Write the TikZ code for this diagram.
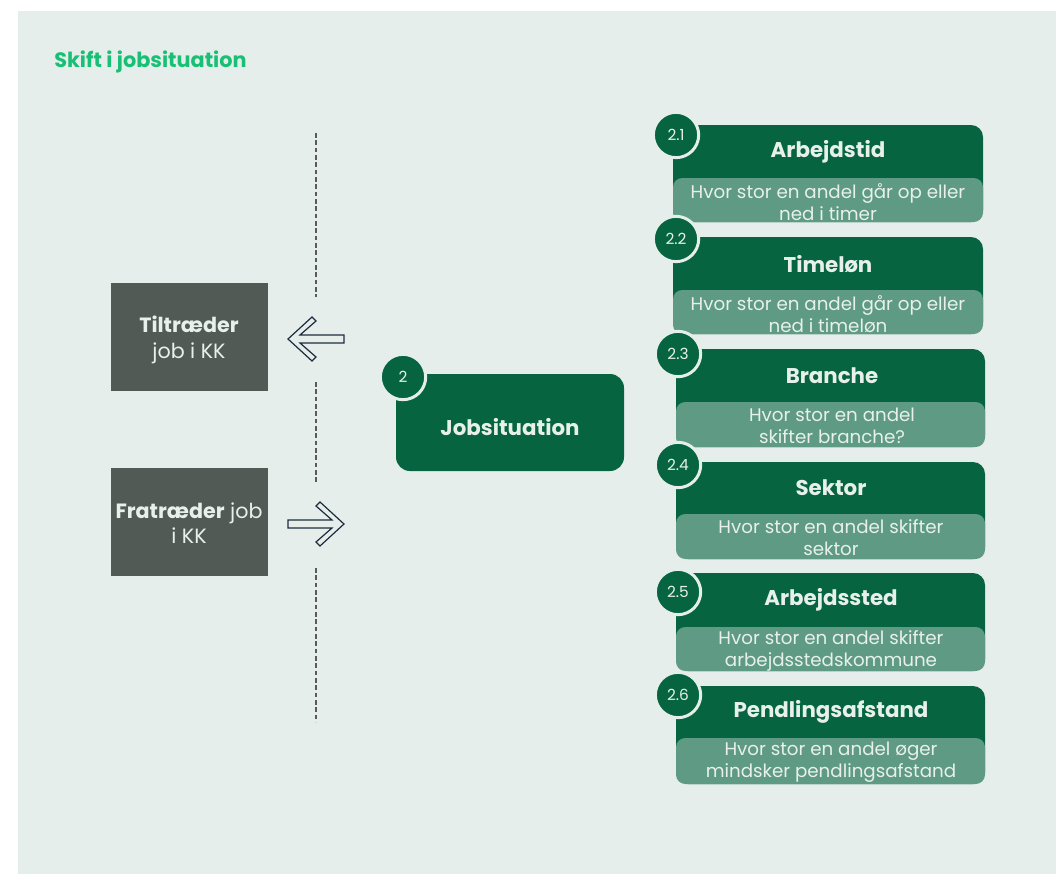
\documentclass[tikz,border=0pt]{standalone}
\usepackage{fontspec}
\setmainfont{Poppins}
\definecolor{bgc}{HTML}{E5EEEB}
\definecolor{headc}{HTML}{19BF75}
\definecolor{dkgreen}{HTML}{066540}
\definecolor{ltgreen}{HTML}{5F9B84}
\definecolor{grayc}{HTML}{525A56}
\definecolor{txtc}{HTML}{E8F0EC}
\definecolor{navy}{HTML}{1E2B3C}
\definecolor{dashc}{HTML}{5A5A5A}
\begin{document}
\begin{tikzpicture}[x=0.75pt, y=-0.75pt,
  numc/.style={circle, fill=dkgreen, draw=bgc, line width=2.25pt, minimum size=34pt, inner sep=0pt, text=txtc, font=\fontsize{11.5}{13}\selectfont},
  cardtitle/.style={text=txtc, inner sep=0pt, font=\fontsize{16}{18}\selectfont\bfseries},
  cardtext/.style={text=txtc, inner sep=0pt, align=center, font=\fontsize{13.7}{16.5}\selectfont},
  graytext/.style={text=txtc, inner sep=0pt, align=center, font=\fontsize{15.5}{19}\selectfont},
  blockarrow/.style={draw=navy, fill=bgc, line width=0.9pt, line join=miter}]
\useasboundingbox (0,0) rectangle (1056,874);
\fill[white] (0,0) rectangle (1056,874);
\fill[bgc] (18,11) rectangle (1056,874);
\node[anchor=west, text=headc, inner sep=0pt, font=\fontsize{15.6}{18}\selectfont\bfseries] (head) at (54,62) {Skift i jobsituation};
\draw[dashc, dashed, line width=0.9pt, dash pattern=on 3.5pt off 2pt] (316,133)--(316,297);
\draw[dashc, dashed, line width=0.9pt, dash pattern=on 3.5pt off 2pt] (316,382)--(316,484);
\draw[dashc, dashed, line width=0.9pt, dash pattern=on 3.5pt off 2pt] (316,568)--(316,722);
\fill[grayc] (111,283) rectangle (268,391);
\node[graytext] (tiltr) at (189,340) {\bfseries Tiltræder\\job i KK};
\fill[grayc] (111,468) rectangle (268,576);
\node[graytext] (fratr) at (189,523) {{\bfseries Fratræder} job\\i KK};
\draw[blockarrow] (288,339)--(312,317)--(316,321)--(300,335)--(344,335)--(344,343)--(300,343)--(316,357)--(312,361)--cycle;
\draw[blockarrow] (344,524)--(320,502)--(316,506)--(332,520)--(288,520)--(288,528)--(332,528)--(316,542)--(320,546)--cycle;
\fill[dkgreen, rounded corners=10.5pt] (396,374) rectangle (624,471);
\node[cardtitle] (job) at (510,427) {Jobsituation};
\node[numc] (n0) at (403,377) {2};
\fill[dkgreen, rounded corners=9pt] (673,125) rectangle (983,222);
\fill[ltgreen, rounded corners=7pt] (673,178) rectangle (983,222);
\node[cardtitle] (t1) at (828,152) {Arbejdstid};
\node[cardtext] (d1) at (828,202) {Hvor stor en andel går op eller\\ned i timer};
\node[numc] (n1) at (676,135) {2.1};
\fill[dkgreen, rounded corners=9pt] (673,237) rectangle (983,334);
\fill[ltgreen, rounded corners=7pt] (673,290) rectangle (983,334);
\node[cardtitle] (t2) at (828,264) {Timeløn};
\node[cardtext] (d2) at (828,314) {Hvor stor en andel går op eller\\ned i timeløn};
\node[numc] (n2) at (676,239) {2.2};
\fill[dkgreen, rounded corners=9pt] (676,349) rectangle (985,447);
\fill[ltgreen, rounded corners=7pt] (676,402) rectangle (985,447);
\node[cardtitle] (t3) at (832,376) {Branche};
\node[cardtext] (d3) at (832,426) {Hvor stor en andel\\skifter branche?};
\node[numc] (n3) at (678,354) {2.3};
\fill[dkgreen, rounded corners=9pt] (676,462) rectangle (985,559);
\fill[ltgreen, rounded corners=7pt] (676,514) rectangle (985,559);
\node[cardtitle] (t4) at (831,488) {Sektor};
\node[cardtext] (d4) at (831,538) {Hvor stor en andel skifter\\sektor};
\node[numc] (n4) at (678,465) {2.4};
\fill[dkgreen, rounded corners=9pt] (676,573) rectangle (985,671);
\fill[ltgreen, rounded corners=7pt] (676,627) rectangle (985,671);
\node[cardtitle] (t5) at (831,600) {Arbejdssted};
\node[cardtext] (d5) at (831,651) {Hvor stor en andel skifter\\arbejdsstedskommune};
\node[numc] (n5) at (678,592) {2.5};
\fill[dkgreen, rounded corners=9pt] (676,686) rectangle (985,784);
\fill[ltgreen, rounded corners=7pt] (676,738) rectangle (985,784);
\node[cardtitle] (t6) at (831,712) {Pendlingsafstand};
\node[cardtext] (d6) at (831,762) {Hvor stor en andel øger\\mindsker pendlingsafstand};
\node[numc] (n6) at (678,695) {2.6};
\end{tikzpicture}
\end{document}
